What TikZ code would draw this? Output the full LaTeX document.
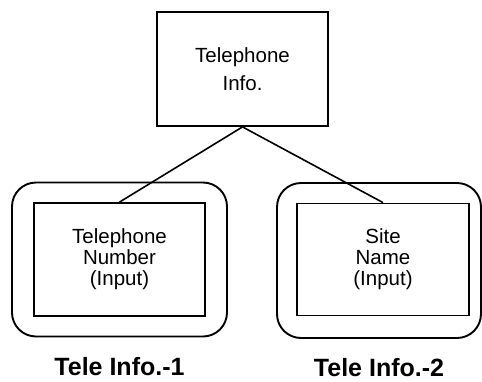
\documentclass[tikz,border=0pt]{standalone}
\usepackage{fontspec}
\setmainfont{Liberation Sans}
\usetikzlibrary{positioning}
\tikzset{
    topbox/.style={rectangle, draw=black, line width=1.8pt, minimum width=171pt, minimum height=114pt, align=center, inner sep=0pt, font=\fontsize{20.5}{28}\selectfont},
    inbox/.style={rectangle, draw=black, line width=1.8pt, minimum width=171pt, minimum height=113pt, align=center, inner sep=0pt, font=\fontsize{20.5}{21}\selectfont},
    groupbox/.style={rectangle, rounded corners=24pt, draw=black, line width=1.9pt, inner sep=0pt},
    grouplabel/.style={inner sep=0pt, font=\fontsize{25}{25}\selectfont\bfseries},
    link/.style={line width=1.6pt}
}
\begin{document}
\begin{tikzpicture}[node distance=190.5pt]
        \useasboundingbox (0,0) rectangle (482pt,-381pt);
        % Nodes
        \node (info) [topbox] at (242.5pt,-69pt) {Telephone\\Info.};
        \node (num) [inbox, below of=info, xshift=-123pt] {Telephone\\Number\\(Input)};
        \node (site) [inbox, below of=info, xshift=140.5pt, minimum width=172pt, minimum height=112pt] {Site\\Name\\(Input)};

        \node (grp1) [groupbox, minimum width=215pt, minimum height=154pt] at (num) {};
        \node (grp2) [groupbox, minimum width=204pt, minimum height=155pt, xshift=-4pt, yshift=-1pt] at (site) {};

        \node (lab1) [grouplabel, below=20pt of grp1] {Tele Info.-1};
        \node (lab2) [grouplabel, below=19pt of grp2] {Tele Info.-2};

        % Connections
        \draw [link] (info.south) -- (num.north);
        \draw [link] (info.south) -- (site.north);
    \end{tikzpicture}
\end{document}
